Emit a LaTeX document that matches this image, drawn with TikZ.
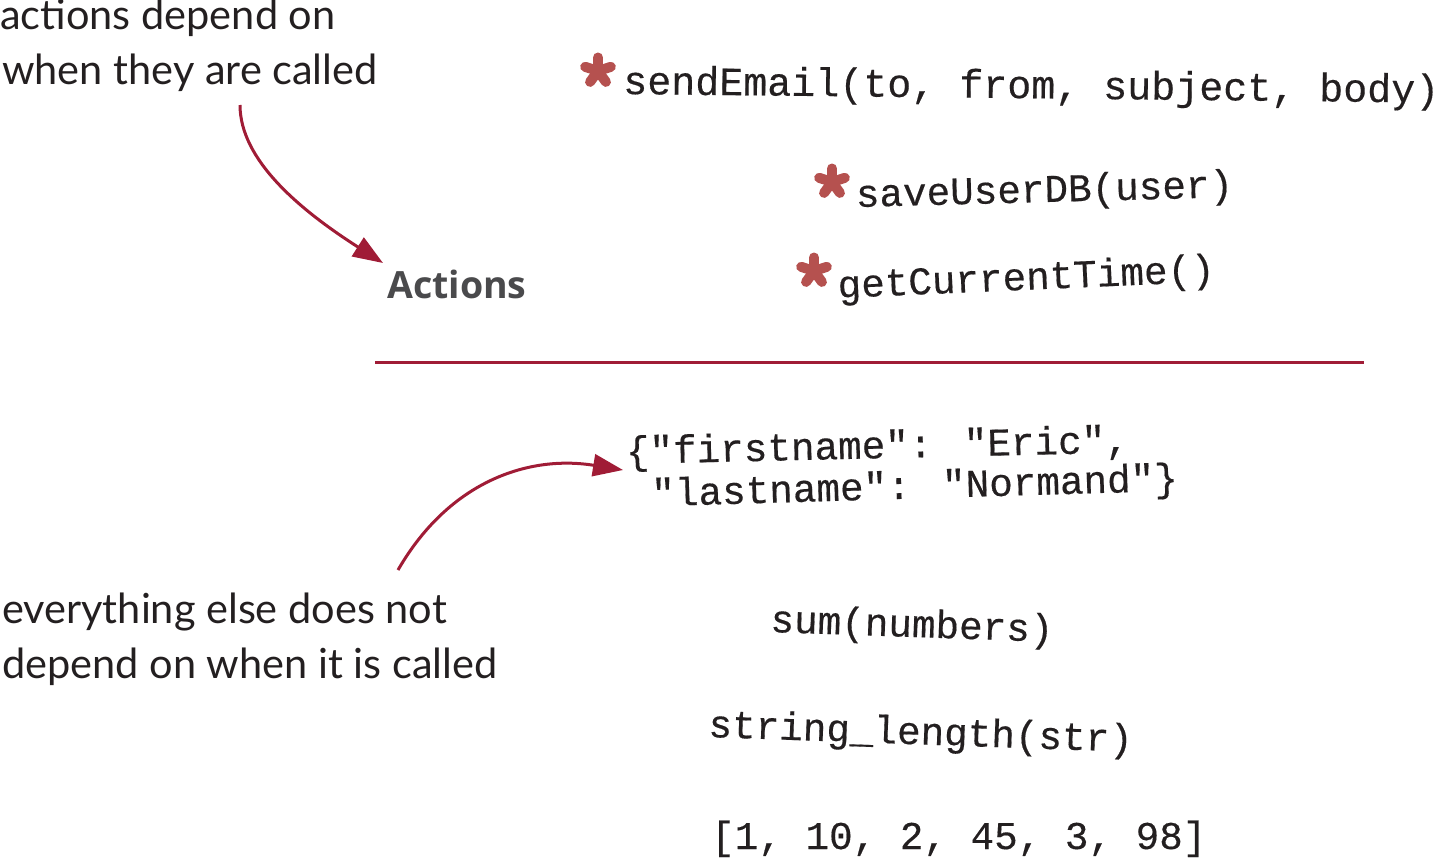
\documentclass[tikz,border=0pt]{standalone}
\usepackage{fontspec}
\setmainfont{Lato}
\newfontfamily\codefont[BoldFont={Liberation Mono},BoldFeatures={FakeBold=0.35}]{Liberation Mono}
\newfontfamily\headfont{Open Sans}
\newfontfamily\handfont{Lato}
\usetikzlibrary{arrows.meta}
\definecolor{arrowred}{HTML}{A01C36}
\definecolor{starred}{HTML}{B5514F}
\definecolor{headgray}{HTML}{4A4A4C}
\definecolor{ink}{HTML}{231F20}
\begin{document}
\begin{tikzpicture}[x=1pt,y=-1pt,
  code/.style={inner sep=0pt, anchor=base west, font=\codefont\bfseries\fontsize{39.3}{47}\selectfont, text=ink},
  codewide/.style={code, font=\codefont\bfseries\fontsize{40}{47}\selectfont},
  hand/.style={inner sep=0pt, anchor=base west, font=\handfont\fontsize{41.5}{50}\selectfont, text=ink},
  head/.style={inner sep=0pt, anchor=base west, font=\headfont\bfseries\fontsize{37.5}{46}\selectfont, text=headgray},
  conn/.style={draw=arrowred, line width=3pt, -{Triangle[length=30pt,width=22pt]}},
  rule/.style={draw=arrowred, line width=3pt},
  asterisk/.pic={\foreach \a in {-90,-18,-162,54,126} \draw[starred, line width=10pt, line cap=round] (0,0) -- (\a:13.5);}
]
\useasboundingbox (0,0) rectangle (1439,859);

% handwritten notes
\node[hand] (noteA1) at (0,30) {actions depend on};
\node[hand] (noteA2) at (2,84) {when they are called};
\node[hand] (noteB1) at (2,623) {everything else does not};
\node[hand] (noteB2) at (2,678) {depend on when it is called};

% heading
\node[head] (actions) at (387,298) {Actions};

% action code
\pic (s1) at (598,71) {asterisk};
\node[codewide, rotate=-0.6] (send) at (623,94) {sendEmail(to, from, subject, body)};
\pic (s2) at (832,182) {asterisk};
\node[code, rotate=1.5] (save) at (856,207) {saveUserDB(user)};
\pic (s3) at (814,271) {asterisk};
\node[code, rotate=2.5] (gettime) at (838,298) {getCurrentTime()};

% divider
\coordinate (ruleL) at (375,362);
\coordinate (ruleR) at (1364,362);
\draw[rule] (ruleL) -- (ruleR);

% data / calculations
\node[code, rotate=1.3] (json1) at (626,464) {\{"firstname": "Eric",};
\node[code, rotate=1.7] (json2) at (628,507) {\ "lastname": "Normand"\}};
\node[code, rotate=-2] (sum) at (770,632) {sum(numbers)};
\node[code, rotate=-2] (strlen) at (708,737) {string\_length(str)};
\node[code] (list) at (711,849) {[1, 10, 2, 45, 3, 98]};

% arrows
\coordinate (a1start) at (240,105);
\coordinate (a1end) at (383,263);
\draw[conn] (a1start) .. controls (240,160) and (300,210) .. (a1end);
\coordinate (a2start) at (398,570);
\coordinate (a2end) at (623,470);
\draw[conn] (a2start) .. controls (450,480) and (530,455) .. (a2end);
\end{tikzpicture}
\end{document}
